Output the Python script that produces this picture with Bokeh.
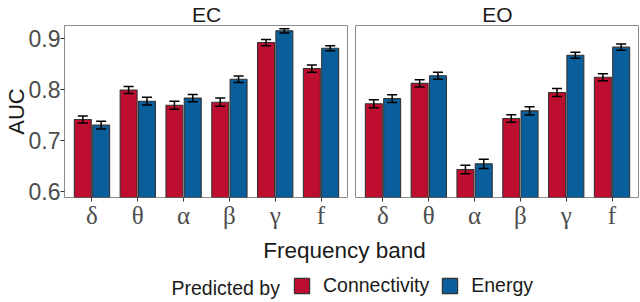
from bokeh.plotting import figure
from bokeh.layouts import column, row
from bokeh.models import (ColumnDataSource, FactorRange, Range1d, FixedTicker,
                          Legend, LegendItem, Label, Title)
from bokeh.transform import dodge
from bokeh.embed import file_html
from bokeh.resources import INLINE

# ---------------- data ----------------
bands = ["δ", "θ", "α", "β", "γ", "f"]
panels = ["EC", "EO"]
series = ["Connectivity", "Energy"]
y_ticks = [0.6, 0.7, 0.8, 0.9]

ec_conn = [0.741, 0.799, 0.769, 0.775, 0.892, 0.841]
ec_conn_err = [0.007, 0.007, 0.008, 0.008, 0.006, 0.007]
ec_energy = [0.730, 0.777, 0.783, 0.820, 0.915, 0.881]
ec_energy_err = [0.0075, 0.0075, 0.007, 0.0065, 0.004, 0.005]

eo_conn = [0.772, 0.812, 0.643, 0.743, 0.794, 0.824]
eo_conn_err = [0.008, 0.007, 0.0085, 0.0075, 0.008, 0.007]
eo_energy = [0.782, 0.827, 0.654, 0.758, 0.867, 0.883]
eo_energy_err = [0.0075, 0.007, 0.009, 0.008, 0.006, 0.006]

RED = "#BE0E30"
BLUE = "#0A5E9C"
SANS = "Liberation Sans"
SERIF = "Liberation Serif"
GREY_TXT = "#4D4D4D"

FRAME_W = 284
FRAME_H = 172
Y_MIN, Y_MAX = 0.588, 0.9255


def make_panel(name, conn, conn_err, energy, energy_err, left):
    src = ColumnDataSource(dict(
        band=bands,
        conn=conn,
        conn_lo=[v - e for v, e in zip(conn, conn_err)],
        conn_hi=[v + e for v, e in zip(conn, conn_err)],
        energy=energy,
        energy_lo=[v - e for v, e in zip(energy, energy_err)],
        energy_hi=[v + e for v, e in zip(energy, energy_err)],
    ))
    p = figure(x_range=FactorRange(*bands, range_padding=0.1,
                                   range_padding_units="absolute"),
               y_range=Range1d(Y_MIN, Y_MAX),
               frame_width=FRAME_W, frame_height=FRAME_H,
               output_backend="svg", toolbar_location=None,
               min_border_left=55 if left else 7, min_border_right=0,
               min_border_top=0, min_border_bottom=40)
    p.title = Title(text=name, align="center", text_font=SANS,
                    text_font_size="21px", text_font_style="normal",
                    text_color="#1A1A1A", standoff=0, offset=0)
    p.xgrid.visible = False
    p.ygrid.visible = False
    p.outline_line_color = "#8C8C8C"
    p.outline_line_width = 1
    p.background_fill_color = "white"

    for key, off, color in (("conn", -0.2, RED), ("energy", 0.2, BLUE)):
        p.vbar(x=dodge("band", off, range=p.x_range), top=key, bottom=0,
               width=0.37, fill_color=color, line_color="#333333",
               line_width=1.1, source=src)
        p.segment(x0=dodge("band", off, range=p.x_range), y0=key + "_lo",
                  x1=dodge("band", off, range=p.x_range), y1=key + "_hi",
                  line_color="black", line_width=1.5, source=src)
        for end in ("_lo", "_hi"):
            p.segment(x0=dodge("band", off - 0.11, range=p.x_range), y0=key + end,
                      x1=dodge("band", off + 0.11, range=p.x_range), y1=key + end,
                      line_color="black", line_width=1.5, source=src)

    xa = p.xaxis[0]
    xa.axis_line_color = None
    xa.major_tick_line_color = "#333333"
    xa.major_tick_out = 4
    xa.major_tick_in = 0
    xa.major_label_standoff = 0
    xa.major_label_text_font = SERIF
    xa.major_label_text_font_size = "25px"
    xa.major_label_text_color = GREY_TXT

    ya = p.yaxis[0]
    if left:
        ya.ticker = FixedTicker(ticks=y_ticks)
        ya.axis_line_color = None
        ya.minor_tick_line_color = None
        ya.major_tick_line_color = "#333333"
        ya.major_tick_out = 4
        ya.major_tick_in = 0
        ya.major_label_standoff = 0
        ya.major_label_text_font = SANS
        ya.major_label_text_font_size = "23px"
        ya.major_label_text_color = GREY_TXT
        ya.axis_label = "AUC"
        ya.axis_label_text_font = SANS
        ya.axis_label_text_font_size = "22px"
        ya.axis_label_text_font_style = "normal"
        ya.axis_label_text_color = "#1A1A1A"
        ya.axis_label_standoff = -3
    else:
        ya.visible = False
    return p


p_ec = make_panel(panels[0], ec_conn, ec_conn_err, ec_energy, ec_energy_err, True)
p_eo = make_panel(panels[1], eo_conn, eo_conn_err, eo_energy, eo_energy_err, False)

# ---------------- bottom: axis title + legend ----------------
BW, BH = 631, 64
bp = figure(width=BW, height=BH, x_range=Range1d(0, BW), y_range=Range1d(0, BH),
            output_backend="svg", toolbar_location=None,
            min_border=0, min_border_left=0, min_border_right=0,
            min_border_top=0, min_border_bottom=0)
bp.axis.visible = False
bp.grid.visible = False
bp.outline_line_color = None

bp.add_layout(Label(x=344, y=51, text="Frequency band", text_align="center",
                    text_baseline="alphabetic", text_font=SANS,
                    text_font_size="22.5px", text_color="#1A1A1A"))
bp.add_layout(Label(x=171, y=14, text="Predicted by", text_align="left",
                    text_baseline="middle", text_font=SANS,
                    text_font_size="19.5px", text_color="#1A1A1A"))

# legend key renderers (single point placed outside the visible range)
r1 = bp.rect(x=[-100], y=[-100], width=1, height=1, fill_color=RED,
             line_color="#333333", line_width=1.2)
r2 = bp.rect(x=[-100], y=[-100], width=1, height=1, fill_color=BLUE,
             line_color="#333333", line_width=1.2)
legend = Legend(items=[LegendItem(label=series[0], renderers=[r1]),
                       LegendItem(label=series[1], renderers=[r2])],
                orientation="horizontal", location=(292, 4),
                padding=0, margin=0, spacing=11, label_standoff=12,
                glyph_width=19, glyph_height=19,
                label_text_font=SANS, label_text_font_size="19.5px",
                label_text_color="#1A1A1A",
                border_line_color=None, background_fill_alpha=0)
bp.add_layout(legend)

layout = column(row(p_ec, p_eo, spacing=0), bp, spacing=0)

with open("out.html", "w") as f:
    f.write(file_html(layout, INLINE))
